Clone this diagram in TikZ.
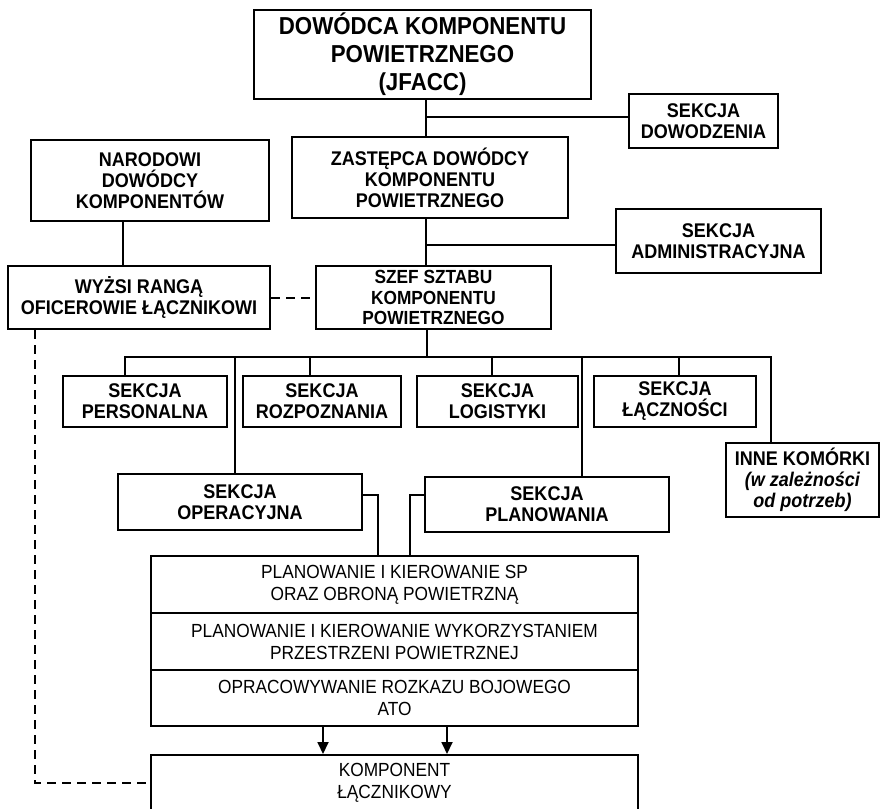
\documentclass[tikz,border=0pt]{standalone}
\usepackage{fontspec}
\setmainfont{Liberation Sans}
\newfontfamily\narrowfam[FakeStretch=0.91]{Liberation Sans}
\usetikzlibrary{arrows.meta}

\begin{document}
\begin{tikzpicture}[x=1pt,y=-1pt,
  box/.style={draw, line width=2pt, align=center, inner sep=2pt,
    font=\narrowfam\fontsize{19.8}{21}\selectfont\bfseries},
  chief/.style={box, font=\narrowfam\fontsize{24.5}{28}\selectfont\bfseries},
  plain/.style={box, font=\narrowfam\fontsize{19}{22}\selectfont},
  link/.style={line width=2pt},
  liaison/.style={line width=2pt, dash pattern=on 9pt off 6pt},
  flow/.style={line width=1.8pt, -{Triangle[length=12pt,width=11pt]}}
]
\useasboundingbox (0,0) rectangle (880,808);
\clip (0,0) rectangle (880,808);

% command level
\node[chief, minimum width=337pt, minimum height=89pt] (jfacc) at (422.5,54.5)
  {DOWÓDCA KOMPONENTU\\POWIETRZNEGO\\(JFACC)};
\node[box, minimum width=149pt, minimum height=54pt] (dow) at (703.5,121)
  {SEKCJA\\DOWODZENIA};
\node[box, minimum width=276pt, minimum height=81pt] (zast) at (430,177.5)
  {ZASTĘPCA DOWÓDCY\\KOMPONENTU\\POWIETRZNEGO};
\node[box, minimum width=238pt, minimum height=81pt] (nar) at (150,180.5)
  {NARODOWI\\DOWÓDCY\\KOMPONENTÓW};
\node[box, minimum width=205pt, minimum height=64pt] (adm) at (718.5,241)
  {SEKCJA\\ADMINISTRACYJNA};
\node[box, minimum width=235pt, minimum height=63pt, font=\narrowfam\fontsize{19}{20.5}\selectfont\bfseries] (szef) at (433.5,297.5)
  {SZEF SZTABU\\KOMPONENTU\\POWIETRZNEGO};
\node[box, minimum width=262pt, minimum height=63pt] (wyz) at (139,297.5)
  {WYŻSI RANGĄ\\OFICEROWIE ŁĄCZNIKOWI};

% staff sections
\node[box, minimum width=164pt, minimum height=51pt] (pers) at (145,401.5)
  {SEKCJA\\PERSONALNA};
\node[box, minimum width=158pt, minimum height=51pt] (rozp) at (322,401.5)
  {SEKCJA\\ROZPOZNANIA};
\node[box, minimum width=161pt, minimum height=51pt] (log) at (497.5,401.5)
  {SEKCJA\\LOGISTYKI};
\node[box, minimum width=162pt, minimum height=51pt] (lacz) at (675,401.5)
  {SEKCJA\\ŁĄCZNOŚCI};
\node[box, minimum width=153pt, minimum height=74pt] (inne) at (802.5,480)
  {INNE KOMÓRKI\\\textit{(w zależności}\\\textit{od potrzeb)}};
\node[box, minimum width=244pt, minimum height=56pt] (oper) at (240,502)
  {SEKCJA\\OPERACYJNA};
\node[box, minimum width=244pt, minimum height=55pt] (plan) at (547,504.5)
  {SEKCJA\\PLANOWANIA};

% planning cell
\node[plain, minimum width=487pt, minimum height=57pt] (r1) at (394.5,584.5)
  {PLANOWANIE I KIEROWANIE SP\\ORAZ OBRONĄ POWIETRZNĄ};
\node[plain, minimum width=487pt, minimum height=57pt] (r2) at (394.5,641.5)
  {PLANOWANIE I KIEROWANIE WYKORZYSTANIEM\\PRZESTRZENI POWIETRZNEJ};
\node[plain, minimum width=487pt, minimum height=56pt] (r3) at (394.5,698)
  {OPRACOWYWANIE ROZKAZU BOJOWEGO\\ATO};
\node[plain, minimum width=487pt, minimum height=56pt] (komp) at (394.5,783)
  {KOMPONENT\\ŁĄCZNIKOWY};

% solid lines of subordination
\coordinate (t1) at (426,117);
\coordinate (t2) at (426,245);
\draw[link] (jfacc.south -| t1) -- (zast.north -| t1);
\draw[link] (t1) -- (t1 -| dow.west);
\draw[link] (zast.south -| t2) -- (szef.north -| t2);
\draw[link] (t2) -- (t2 -| adm.west);
\coordinate (t3) at (123,0);
\draw[link] (nar.south -| t3) -- (wyz.north -| t3);

% staff bus
\coordinate (sz) at (427,357);
\coordinate (busL) at (125,357);
\coordinate (busR) at (771,357);
\draw[link] (szef.south -| sz) -- (sz);
\draw[link, line cap=rect] (busL) -- (busR);
\draw[link] (busL) -- (busL |- pers.north);
\coordinate (d2) at (235,357);
\coordinate (d3) at (310,357);
\coordinate (d4) at (492,357);
\coordinate (d5) at (582,357);
\coordinate (d6) at (679,357);
\draw[link] (d2) -- (d2 |- oper.north);
\draw[link] (d3) -- (d3 |- rozp.north);
\draw[link] (d4) -- (d4 |- log.north);
\draw[link] (d5) -- (d5 |- plan.north);
\draw[link] (d6) -- (d6 |- lacz.north);
\draw[link] (busR) -- (busR |- inne.north);

% operations and plans feed the planning cell
\coordinate (o1) at (378,495);
\coordinate (p1) at (410,495);
\draw[link] (oper.east |- o1) -- (o1) -- (o1 |- r1.north);
\draw[link] (plan.west |- p1) -- (p1) -- (p1 |- r1.north);

% outputs to the liaison component
\coordinate (a1) at (323,0);
\coordinate (a2) at (447,0);
\draw[flow] (r3.south -| a1) -- (komp.north -| a1);
\draw[flow] (r3.south -| a2) -- (komp.north -| a2);

% liaison links
\draw[liaison] (wyz.east) -- (szef.west);
\coordinate (lv) at (35,0);
\draw[liaison] (wyz.south -| lv) -- (lv |- komp.west) -- (komp.west);
\end{tikzpicture}
\end{document}
